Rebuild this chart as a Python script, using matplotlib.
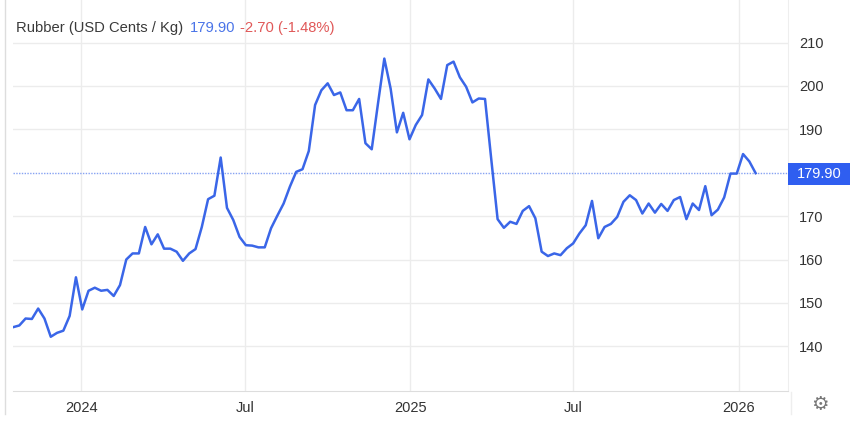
import matplotlib.pyplot as plt
import matplotlib.dates as mdates
import numpy as np
import pandas as pd

plt.rcParams['font.family'] = ['Liberation Sans', 'DejaVu Sans']

# weekly rubber prices, USD cents / kg
prices = [
    144.4, 144.8, 146.4, 146.3, 148.7, 146.4, 142.2, 143.1, 143.6, 147.0,
    155.9, 148.5, 152.8, 153.5, 152.8, 153.0, 151.6, 154.1, 160.0, 161.4,
    161.4, 167.5, 163.5, 165.8, 162.5, 162.5, 161.8, 159.7, 161.4, 162.4,
    167.5, 173.9, 174.7, 183.5, 171.9, 169.1, 165.2, 163.3, 163.2, 162.8,
    162.8, 167.2, 170.1, 172.9, 176.8, 180.2, 180.8, 185.0, 195.6, 199.0,
    200.6, 197.9, 198.5, 194.4, 194.4, 197.0, 186.8, 185.4, 196.0, 206.3,
    199.4, 189.3, 193.8, 187.7, 191.0, 193.3, 201.5, 199.4, 197.0, 204.8,
    205.6, 202.0, 199.8, 196.2, 197.1, 197.0, 183.0, 169.3, 167.3, 168.7,
    168.2, 171.2, 172.3, 169.5, 161.8, 160.8, 161.4, 161.0, 162.6, 163.7,
    166.0, 167.9, 173.5, 164.9, 167.5, 168.2, 169.8, 173.3, 174.8, 173.7,
    170.6, 172.9, 170.8, 172.8, 171.2, 173.7, 174.4, 169.3, 172.9, 171.4,
    176.9, 170.2, 171.5, 174.3, 179.8, 179.8, 184.3, 182.6, 179.9,
]
dates = pd.date_range(end='2026-01-20', periods=len(prices), freq='7D')

last = 179.90
change = -2.70
change_pct = -1.48
yticks = [140, 150, 160, 170, 190, 200, 210]
xticks = pd.to_datetime(['2024-01-01', '2024-07-01', '2025-01-01', '2025-07-01', '2026-01-01'])
xlabels = ['2024', 'Jul', '2025', 'Jul', '2026']

W, H = 851, 428
fig = plt.figure(figsize=(W / 100, H / 100), dpi=100)
ax = fig.add_axes([13 / W, 1 - 391 / H, (788 - 13) / W, 391 / H])

line_blue = '#3a66e8'
grid_c = '#ececec'

ax.plot(dates, prices, color=line_blue, lw=1.8, solid_joinstyle='round', zorder=3)
ax.axhline(last, color='#86a2f2', lw=1, ls=(0, (1, 1)), zorder=2)

ax.set_ylim(129.7, 219.8)
ax.set_xlim(pd.Timestamp('2023-10-17'), pd.Timestamp('2026-02-25'))

ax.set_yticks(yticks)
ax.set_xticks(xticks)
ax.set_xticklabels(xlabels)
ax.grid(True, color=grid_c, lw=1)
ax.set_axisbelow(True)

ax.yaxis.tick_right()
ax.tick_params(axis='y', length=0, pad=8, labelsize=10.5, labelcolor='#333333')
ax.tick_params(axis='x', length=0, pad=7, labelsize=10.5, labelcolor='#333333')

for s in ['top', 'left']:
    ax.spines[s].set_visible(False)
ax.spines['bottom'].set_color('#dddddd')
ax.spines['right'].set_color('#eeeeee')

# price tag on the right axis
fig.add_artist(plt.Rectangle((788 / W, 1 - 185 / H), 62 / W, 22 / H,
                             transform=fig.transFigure, fc='#2f5ef0', ec='none'))
fig.text(819 / W, 1 - 174 / H, f'{last:.2f}', fontsize=10.5, color='white',
         ha='center', va='center')

# header text
fig.text(16 / W, 1 - 28 / H, 'Rubber (USD Cents / Kg)', fontsize=10.6, color='#3a3a3a',
         va='center', ha='left')
fig.text(190 / W, 1 - 28 / H, f'{last:.2f}', fontsize=10.6, color='#4a74e8', va='center', ha='left')
fig.text(240 / W, 1 - 28 / H, f'{change:.2f} ({change_pct:.2f}%)', fontsize=10.6,
         color='#e05858', va='center', ha='left')

# frame pieces and settings gear
fig.add_artist(plt.Line2D([5 / W, 5 / W], [1 - 414 / H, 1], color='#dddddd', lw=1))
fig.add_artist(plt.Line2D([791 / W, 791 / W], [1 - 414 / H, 1 - 392 / H], color='#eeeeee', lw=1))
fig.text(820 / W, 1 - 404 / H, '\u2699', family='DejaVu Sans', fontsize=14, color='#777777',
         ha='center', va='center')

fig.savefig('out.png', dpi=100)
